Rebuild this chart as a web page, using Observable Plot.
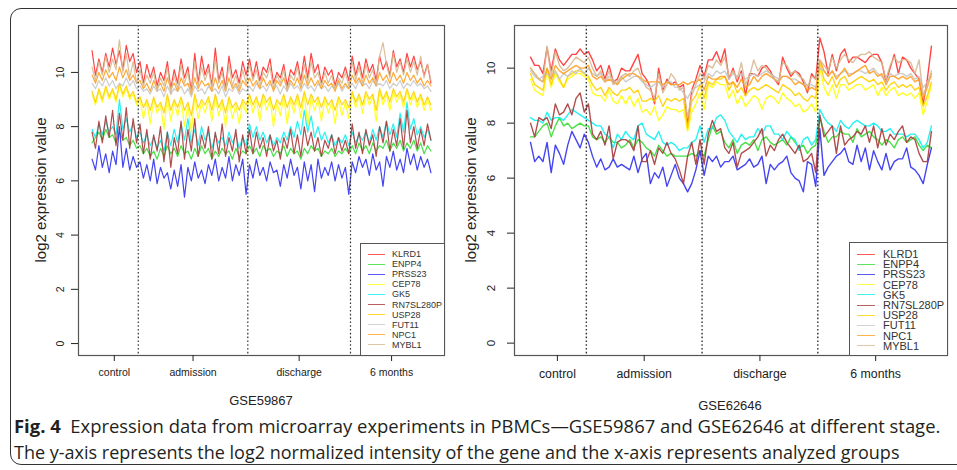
<!DOCTYPE html>
<html><head><meta charset="utf-8">
<script src="https://cdn.jsdelivr.net/npm/d3@7"></script>
<script src="https://cdn.jsdelivr.net/npm/@observablehq/plot@0.6"></script>
<style>
html,body{margin:0;padding:0;background:#fff;}
body{width:957px;height:470px;overflow:hidden;position:relative;font-family:"Liberation Sans",Arial,sans-serif;color:#222;}
#box{position:absolute;left:10px;top:8px;width:990px;height:457px;border:1.3px solid #333;border-radius:11px;box-sizing:border-box;}
.panel{position:absolute;top:0;}
.ytitle{position:absolute;white-space:nowrap;transform:translate(-50%,-50%) rotate(-90deg);font-size:15px;color:#222;}
.xtitle{position:absolute;white-space:nowrap;transform:translate(-50%,-50%);font-size:13px;color:#222;}
.legend{position:absolute;border:1px solid #555;background:#fff;box-sizing:border-box;}
.lrow{position:absolute;left:0;display:flex;align-items:center;white-space:nowrap;}
.lrow span.sw{display:inline-block;height:0;border-top:1.6px solid;}
.cap{position:absolute;left:14px;white-space:nowrap;font-family:"Open Sans","Noto Sans",sans-serif;font-size:17px;color:#231f20;transform:translateY(-50%);}
.cap b{font-weight:bold;}
</style></head>
<body>
<div id="box"></div>
<div id="left" class="panel" style="left:0"></div>
<div id="right" class="panel" style="left:445px"></div>
<div class="ytitle" style="left:40px;top:190px">log2 expression value</div>
<div class="ytitle" style="left:470px;top:190px">log2 expression value</div>
<div class="xtitle" style="left:261px;top:400px">GSE59867</div>
<div class="xtitle" style="left:730px;top:405px">GSE62646</div>
<div id="cap1" class="cap" style="top:425px"><b>Fig. 4</b>&nbsp; Expression data from microarray experiments in PBMCs—GSE59867 and GSE62646 at different stage.</div>
<div id="cap2" class="cap" style="top:452px">The y-axis represents the log2 normalized intensity of the gene and the x-axis represents analyzed groups</div>
<script>
// ---- categories / labels ----
const genes = ["KLRD1","ENPP4","PRSS23","CEP78","GK5","RN7SL280P","USP28","FUT11","NPC1","MYBL1"];
const colors = ["#ff3030","#33dd33","#3030f0","#ffff10","#10f0f0","#a83a3a","#ffd000","#c8c8c8","#ffa020","#d8b890"];
const groups = ["control","admission","discharge","6 months"];
const yTicks = [0,2,4,6,8,10];
// samples per group (left panel read at reduced density)
const sizesL = [14,32,30,24];
const sizesR = [14,28,28,28];

// ---- GSE59867 (left) ----
const KLRD1_L = [10.8,9.9,10.5,10.0,10.7,10.2,10.9,10.3,10.8,10.1,11.0,10.4,10.7,10.0,
 10.4,9.6,10.3,9.8,10.2,9.5,10.0,9.7,10.4,9.4,10.1,9.6,10.5,9.8,10.2,9.3,10.7,9.6,10.6,9.9,10.3,9.5,10.9,9.7,10.2,9.4,10.6,9.8,10.1,9.6,10.4,9.9,
 10.5,9.8,10.4,9.7,10.2,10.0,10.5,9.6,10.0,9.8,10.3,9.5,10.1,9.9,10.4,9.7,10.6,9.8,10.7,10.0,10.3,9.6,10.2,9.9,10.1,9.5,10.0,9.8,10.2,9.7,
 10.6,9.9,10.4,9.8,10.5,10.0,10.3,9.7,10.6,10.1,10.4,9.9,10.8,10.2,10.5,10.0,10.7,10.2,10.6,10.1,10.4,9.9,10.3,9.6];
const ENPP4_L = [7.4,7.6,7.8,7.5,7.9,7.6,7.7,7.4,7.8,7.5,7.6,7.3,7.5,7.2,
 7.3,7.0,7.2,6.9,7.1,6.8,7.2,6.9,7.3,7.0,7.2,6.9,7.3,7.0,7.1,6.8,7.2,6.9,7.3,7.0,7.2,6.8,7.1,6.9,7.2,7.0,7.1,6.8,7.2,6.9,7.1,7.0,
 7.3,7.0,7.2,6.9,7.3,7.1,7.2,6.9,7.1,7.0,7.3,6.9,7.2,7.0,7.1,6.8,7.2,7.0,7.3,7.1,7.2,6.9,7.1,7.0,7.2,6.9,7.1,7.0,7.2,7.0,
 7.3,7.0,7.4,7.1,7.3,7.0,7.4,7.1,7.3,7.2,7.5,7.1,7.4,7.2,7.5,7.1,7.4,7.2,7.5,7.1,7.4,7.0,7.3,7.1];
const PRSS23_L = [6.8,6.4,7.3,6.5,7.0,6.3,7.1,6.6,8.0,6.5,7.2,6.4,6.9,6.5,
 6.7,6.1,6.6,6.0,6.8,5.9,6.5,6.1,6.3,5.7,6.4,5.8,6.6,5.4,6.5,6.0,6.7,6.1,6.4,5.9,6.6,6.2,6.8,6.0,6.5,6.1,6.9,6.0,6.6,6.2,6.8,5.5,
 6.6,6.1,6.8,6.2,6.5,6.0,6.7,6.3,6.4,5.8,6.6,6.1,6.8,6.2,6.5,5.7,6.7,6.0,6.6,5.6,6.8,6.1,6.5,6.2,6.7,6.0,6.6,6.1,6.5,5.5,
 6.7,6.3,6.9,6.5,6.8,6.2,7.0,6.4,6.7,5.8,6.9,6.5,7.1,6.4,6.8,6.3,7.2,6.6,7.0,6.4,6.9,6.5,6.8,6.3];
const CEP78_L = [9.2,8.8,9.3,8.9,9.4,9.0,9.3,8.9,9.5,9.1,9.4,9.0,9.2,8.8,
 9.0,8.3,8.9,8.1,9.0,8.5,8.8,7.9,9.1,8.2,8.9,8.4,9.0,8.0,8.8,7.8,9.1,8.3,8.9,8.5,9.0,8.2,9.1,8.4,8.9,8.0,9.0,8.3,8.8,8.1,8.9,8.5,
 9.1,8.5,9.0,8.2,9.1,8.6,9.0,8.0,8.9,8.4,9.1,8.1,9.0,8.5,9.1,8.3,9.2,8.0,9.1,8.6,9.0,8.2,9.0,8.5,8.9,8.1,9.0,8.4,8.9,8.3,
 9.2,8.7,9.1,8.5,9.2,8.8,9.1,8.2,9.3,8.8,9.2,8.6,9.3,8.9,9.2,8.7,9.3,8.8,9.2,8.7,9.1,8.6,9.0,8.6];
const GK5_L = [7.9,7.6,8.1,7.7,8.2,7.8,8.0,7.7,9.0,7.9,8.3,7.8,8.1,7.6,
 7.8,7.4,7.7,7.3,7.6,7.2,7.5,7.1,7.8,7.3,7.9,7.4,8.1,7.5,8.3,7.4,7.9,7.3,8.0,7.5,7.8,7.2,7.7,7.4,7.6,7.3,7.8,7.4,7.7,7.2,7.6,7.3,
 8.1,7.6,8.0,7.5,7.8,7.4,7.7,7.3,7.6,7.4,7.8,7.5,8.0,7.6,8.2,7.7,8.6,7.8,8.4,7.6,8.0,7.5,7.8,7.4,7.7,7.3,7.6,7.4,7.7,7.3,
 7.8,7.4,7.7,7.5,7.8,7.4,7.9,7.5,8.0,7.6,8.2,7.7,8.1,7.6,8.5,7.8,8.9,7.9,8.3,7.7,8.0,7.6,7.9,7.5];
const RN7SL280P_L = [7.8,7.2,8.2,7.4,8.4,7.6,8.6,7.3,8.5,7.5,8.7,7.2,8.3,7.4,
 8.1,7.0,7.9,6.8,7.7,7.1,8.0,6.7,7.8,6.5,7.6,7.0,8.2,6.8,7.9,7.1,8.3,6.9,7.7,7.2,8.0,6.8,7.8,7.0,8.1,6.9,7.6,7.1,7.9,6.7,7.7,7.0,
 7.9,7.0,7.8,7.2,7.6,6.9,7.7,7.1,7.5,6.8,7.6,7.2,7.9,7.0,7.7,6.9,8.0,7.3,7.8,7.1,7.6,6.9,7.5,7.2,7.7,7.0,7.6,7.1,7.5,7.0,
 8.1,7.2,7.8,7.0,7.9,7.3,7.7,6.9,8.0,7.4,8.2,7.1,7.9,7.3,8.3,7.2,8.6,7.4,8.0,7.2,7.9,7.3,8.1,7.5];
const USP28_L = [9.3,8.9,9.4,9.0,9.5,9.1,9.4,9.0,9.6,9.2,9.5,9.1,9.3,8.9,
 9.1,8.7,9.0,8.6,9.1,8.7,8.9,8.5,9.2,8.6,9.0,8.7,9.1,8.6,8.9,8.4,9.2,8.7,9.0,8.8,9.1,8.6,9.2,8.7,9.0,8.5,9.1,8.7,8.9,8.6,9.0,8.8,
 9.2,8.8,9.1,8.7,9.2,8.9,9.1,8.6,9.0,8.8,9.2,8.7,9.1,8.8,9.2,8.7,9.3,8.8,9.2,8.9,9.1,8.7,9.1,8.8,9.0,8.6,9.1,8.8,9.0,8.7,
 9.3,8.9,9.2,8.8,9.3,9.0,9.2,8.6,9.4,9.0,9.3,8.9,9.4,9.1,9.3,8.9,9.4,9.0,9.3,8.9,9.2,8.8,9.1,8.8];
const FUT11_L = [9.6,9.4,9.7,9.5,9.8,9.5,9.7,9.4,9.6,9.5,9.8,9.5,9.7,9.4,
 9.5,9.3,9.4,9.2,9.5,9.3,9.4,9.1,9.5,9.2,9.4,9.3,9.5,9.2,9.4,9.1,9.5,9.3,9.4,9.2,9.5,9.3,9.4,9.2,9.5,9.1,9.4,9.3,9.5,9.2,9.4,9.3,
 9.5,9.3,9.6,9.4,9.5,9.3,9.6,9.4,9.5,9.2,9.5,9.3,9.6,9.4,9.5,9.3,9.6,9.4,9.5,9.3,9.6,9.4,9.5,9.3,9.5,9.4,9.6,9.3,9.5,9.4,
 9.6,9.4,9.7,9.5,9.6,9.4,9.7,9.5,9.6,9.5,9.7,9.4,9.6,9.5,9.7,9.4,9.6,9.5,9.7,9.5,9.6,9.4,9.5,9.3];
const NPC1_L = [9.9,9.6,10.0,9.7,10.1,9.8,10.0,9.7,10.2,9.8,10.1,9.7,9.9,9.6,
 9.7,9.4,9.6,9.3,9.7,9.4,9.6,9.3,9.8,9.4,9.6,9.3,9.8,9.5,9.6,9.2,9.8,9.4,9.7,9.5,9.6,9.3,9.8,9.4,9.7,9.3,9.8,9.4,9.6,9.3,9.7,9.5,
 9.8,9.5,9.7,9.4,9.8,9.5,9.7,9.3,9.7,9.5,9.8,9.4,9.7,9.5,9.8,9.4,9.9,9.5,9.8,9.5,9.7,9.4,9.7,9.5,9.6,9.3,9.7,9.4,9.6,9.4,
 9.9,9.6,9.8,9.5,9.9,9.6,9.8,9.5,10.0,9.7,9.9,9.6,10.0,9.7,9.9,9.6,10.0,9.7,9.9,9.6,9.8,9.5,9.7,9.5];
const MYBL1_L = [10.2,9.7,10.4,9.9,10.6,10.0,10.5,10.1,11.2,10.0,10.7,9.8,10.4,9.6,
 10.1,9.5,9.9,9.6,10.0,9.3,9.8,9.5,10.2,9.2,9.9,9.4,10.3,9.6,10.0,9.2,10.4,9.5,10.2,9.7,10.1,9.4,10.5,9.6,10.0,9.3,10.3,9.5,9.9,9.4,10.1,9.6,
 10.3,9.7,10.1,9.5,10.0,9.8,10.2,9.4,9.9,9.6,10.1,9.3,9.9,9.7,10.2,9.5,10.3,9.6,10.4,9.8,10.0,9.5,10.0,9.6,9.9,9.4,9.8,9.6,10.0,9.5,
 10.4,9.7,10.2,9.6,10.3,9.8,10.1,9.5,10.6,11.1,10.3,9.8,10.7,10.0,10.4,9.9,10.5,10.0,10.4,9.9,10.6,9.8,10.3,9.7];

// ---- GSE62646 (right) ----
const KLRD1_R = [10.4,10.1,10.1,9.8,10.75,9.9,10.7,10.3,10.1,10.3,10.5,10.5,10.7,10.5,
 10.6,10.3,9.9,10.1,9.6,10.1,9.5,9.6,10.0,9.9,9.9,10.2,10.5,9.8,9.6,9.3,8.7,10.0,9.2,9.6,9.4,9.5,9.3,9.4,7.9,9.2,9.6,10.1,
 9.7,10.3,10.3,10.6,10.2,10.7,9.6,10.0,9.5,9.9,9.0,9.8,9.8,9.7,10.0,10.1,9.9,9.6,9.4,10.4,10.0,9.7,9.9,9.8,9.5,9.1,9.8,9.6,
 11.1,10.6,9.8,10.5,9.9,10.5,10.7,10.2,10.4,10.4,10.3,10.2,10.4,10.5,10.5,10.2,9.5,10.0,10.5,9.8,10.4,10.3,10.0,9.8,9.6,8.7,9.6,10.8];
const ENPP4_R = [7.5,7.5,7.7,7.9,8.0,7.5,7.9,8.2,7.9,8.0,7.8,7.9,8.0,7.9,
 7.9,7.5,7.4,7.5,7.3,7.5,7.3,7.3,7.1,7.2,7.4,7.1,7.4,7.3,7.1,7.0,6.8,7.2,7.0,6.8,6.9,6.8,6.8,6.8,6.8,6.9,6.8,7.0,
 6.8,7.4,7.9,7.6,7.7,7.3,7.1,7.4,6.9,7.2,7.3,7.2,7.4,7.0,7.4,7.5,7.3,7.2,7.3,7.4,7.2,7.5,7.3,7.1,7.2,6.9,7.1,7.2,
 8.2,7.7,7.3,7.5,7.5,7.7,7.6,7.6,7.3,7.8,7.5,7.6,7.7,7.5,7.4,7.2,7.4,7.3,7.1,7.4,7.5,7.3,7.4,7.5,7.2,7.0,7.2,7.1];
const PRSS23_R = [7.3,6.6,6.8,6.6,7.3,6.2,7.2,6.9,6.5,7.2,7.7,7.4,7.1,7.6,
 7.3,6.8,6.4,6.7,6.3,6.4,6.7,6.4,6.5,6.4,6.3,6.8,6.2,6.7,6.9,5.8,6.2,6.0,6.4,5.7,6.1,6.5,6.0,5.8,5.5,5.8,6.3,7.0,
 6.1,6.8,6.6,6.8,6.4,6.6,6.6,6.8,6.3,6.4,6.5,6.7,6.4,6.5,6.8,5.8,6.5,6.3,6.5,6.6,6.8,6.2,6.0,5.9,5.5,6.6,6.5,5.7,
 7.8,6.1,6.4,6.6,6.8,6.9,7.1,6.6,6.5,7.2,6.6,7.1,6.3,7.0,6.6,6.3,6.9,6.3,6.6,6.7,6.7,7.1,6.4,6.3,6.1,5.8,6.5,7.1];
const CEP78_R = [9.6,9.2,9.1,9.0,9.9,9.3,9.8,9.5,9.3,9.6,9.7,9.8,9.8,9.7,
 9.6,9.1,9.0,9.0,8.8,9.2,8.8,8.7,9.0,8.7,9.0,8.6,8.9,8.4,8.5,8.3,8.6,8.1,8.3,8.6,8.5,8.5,8.4,8.5,7.7,8.4,8.7,9.1,
 8.5,9.4,9.3,9.5,9.4,9.4,8.9,9.2,8.7,9.0,8.6,8.8,9.0,8.9,8.5,8.9,9.0,8.9,8.7,9.1,8.9,8.8,8.6,8.7,8.4,8.5,8.7,8.4,
 10.0,9.3,9.0,9.4,8.9,9.4,9.4,9.2,9.3,9.4,9.4,9.2,9.3,9.4,9.0,9.3,9.0,9.2,9.3,9.0,9.1,9.0,9.1,8.9,9.1,8.3,8.8,9.4];
const GK5_R = [8.2,8.1,8.1,8.0,8.4,8.1,8.2,8.2,8.1,8.3,8.5,8.4,8.3,8.2,
 8.1,8.0,7.9,7.9,7.6,7.5,7.1,7.6,7.4,7.7,7.5,7.4,7.9,8.0,7.6,7.5,7.4,7.7,7.3,7.2,7.3,7.2,7.0,7.1,7.1,7.3,7.4,7.9,
 7.3,7.8,7.8,8.2,8.3,8.1,7.7,7.5,7.3,7.6,7.4,7.5,7.5,7.8,7.6,7.9,7.9,7.6,7.6,7.4,7.7,7.5,7.4,7.0,7.4,7.5,7.2,7.4,
 8.5,8.2,8.0,7.9,7.7,8.1,7.9,7.8,8.0,8.1,8.0,7.9,7.9,8.0,7.9,7.7,7.7,7.8,7.6,7.6,7.6,7.5,7.6,7.6,7.4,7.1,7.3,7.9];
const RN7SL280P_R = [8.0,7.5,8.2,8.1,8.2,7.8,8.7,8.3,8.4,8.7,8.3,8.9,9.1,8.4,
 8.7,7.6,7.4,7.7,7.2,7.9,6.7,7.3,7.4,7.4,7.3,7.0,7.9,6.6,6.6,7.0,6.5,7.1,6.9,7.3,6.9,6.7,6.3,5.8,6.8,7.3,6.5,7.4,
 6.5,7.6,8.1,7.7,7.8,7.1,6.9,7.3,6.4,6.9,7.0,7.1,7.3,7.5,7.8,6.8,7.2,7.0,7.4,7.6,7.3,7.1,6.9,7.2,6.6,6.7,6.9,6.2,
 8.3,7.5,7.7,7.9,6.9,7.9,7.2,7.4,7.5,7.7,7.6,7.9,7.3,7.9,7.1,7.8,7.2,7.6,7.4,7.7,7.9,7.3,7.5,7.4,6.9,6.6,6.6,7.7];
const USP28_R = [9.8,9.4,9.3,9.2,10.0,9.4,9.9,9.6,9.3,9.7,9.8,9.9,9.9,9.8,
 9.7,9.4,9.2,9.3,9.0,9.3,9.1,9.0,9.2,9.2,9.3,9.1,9.2,8.8,8.8,8.9,8.8,9.0,8.6,8.9,8.8,8.9,8.8,8.9,7.8,8.8,9.0,9.4,
 8.9,9.5,9.4,9.6,9.6,9.7,9.2,9.5,9.1,9.3,9.0,9.2,9.3,9.2,9.3,9.4,9.3,9.2,9.1,9.4,9.3,9.2,9.0,9.1,8.9,8.8,9.0,8.9,
 10.2,9.6,9.4,9.7,9.3,9.6,9.7,9.4,9.5,9.6,9.7,9.6,9.5,9.6,9.4,9.5,9.2,9.4,9.5,9.3,9.4,9.3,9.4,9.2,9.3,8.6,9.0,9.5];
const FUT11_R = [9.9,9.7,9.6,9.7,9.8,9.6,9.9,9.6,9.8,9.7,9.9,9.8,10.0,9.8,
 10.0,9.8,9.7,9.8,9.5,9.7,9.6,9.4,9.7,9.5,9.6,9.7,9.7,9.5,9.4,9.3,9.4,9.5,9.3,9.5,9.5,9.3,9.3,9.1,8.9,9.2,9.3,9.4,
 9.5,9.8,9.7,9.9,9.8,9.9,9.6,9.8,9.7,9.8,9.6,9.7,9.8,9.7,9.8,9.9,9.8,9.7,9.6,9.7,9.7,9.6,9.6,9.5,9.4,9.4,9.4,9.3,
 10.0,9.9,9.7,9.9,9.7,9.8,9.9,9.8,9.8,9.9,9.9,9.8,9.9,10.0,9.8,9.7,9.5,9.8,9.7,9.8,9.8,9.7,9.8,9.6,9.7,9.3,9.5,9.7];
const NPC1_R = [10.0,9.8,9.6,9.5,10.0,9.6,10.1,9.9,9.8,9.9,10.0,10.1,10.0,10.0,
 10.1,9.7,9.6,9.7,9.5,9.6,9.5,9.4,9.6,9.7,9.8,9.8,9.7,9.6,9.5,9.5,9.5,9.5,9.4,9.5,9.4,9.4,9.4,9.5,9.4,9.5,9.5,9.6,
 9.2,9.7,9.6,9.6,9.7,9.7,9.4,9.5,9.3,9.6,9.3,9.4,9.7,9.5,9.7,9.8,9.7,9.6,9.5,9.7,9.7,9.6,9.4,9.5,9.4,9.2,9.3,9.2,
 10.3,9.9,9.7,9.9,9.6,9.8,10.0,9.7,9.8,9.9,10.0,10.1,9.8,9.9,9.7,9.8,9.4,9.7,9.7,9.6,9.7,9.6,9.7,9.5,9.6,8.9,9.3,9.8];
const MYBL1_R = [10.0,9.8,9.6,9.5,10.8,9.7,10.6,10.1,9.9,10.0,10.2,10.4,10.3,10.2,
 10.4,10.0,9.7,9.9,9.5,9.9,9.4,9.5,9.7,9.8,9.7,9.9,10.0,9.6,9.3,9.2,8.9,9.8,9.1,9.4,9.8,9.6,9.2,9.3,8.2,9.0,9.4,9.8,
 9.6,10.1,10.0,10.3,10.1,10.4,9.7,9.9,9.6,10.2,9.4,9.7,10.3,9.9,10.1,10.0,9.8,9.6,9.5,10.2,10.1,9.8,9.9,9.7,9.6,9.3,9.7,9.6,
 10.3,10.1,9.9,10.4,10.0,10.3,10.5,10.3,10.2,10.4,10.5,10.5,10.6,10.4,10.3,10.2,9.6,10.1,10.4,10.2,10.3,10.3,10.2,9.8,10.3,9.0,9.4,9.9];

const seriesL = [KLRD1_L,ENPP4_L,PRSS23_L,CEP78_L,GK5_L,RN7SL280P_L,USP28_L,FUT11_L,NPC1_L,MYBL1_L];
const seriesR = [KLRD1_R,ENPP4_R,PRSS23_R,CEP78_R,GK5_R,RN7SL280P_R,USP28_R,FUT11_R,NPC1_R,MYBL1_R];

function panel(el, series, sizes, o) {
  const n = d3.sum(sizes);
  const cum = Array.from(d3.cumsum(sizes));
  const starts = [0, ...cum.slice(0, -1)];
  const bounds = cum.slice(0, -1).map(v => v - 0.5);
  const centers = sizes.map((s, k) => starts[k] + (s - 1) / 2);
  const pad = 0.04 * (n - 1);
  const marks = [];
  series.forEach((vals, k) => {
    marks.push(Plot.lineY(vals, {x: (d, i) => i, y: d => d, stroke: colors[k], strokeWidth: o.lw, strokeOpacity: 0.9}));
  });
  marks.push(Plot.ruleX(bounds, {stroke: "#333", strokeDasharray: o.dash, strokeWidth: o.dw}));
  marks.push(Plot.frame({stroke: "#555", strokeWidth: 1.2}));
  marks.push(Plot.axisY(yTicks, {tickSize: 7, tickPadding: o.ypad, tickRotate: -90, fontSize: o.yfs, tickFormat: d => String(d), label: null}));
  marks.push(Plot.axisX(centers, {tickSize: 6, tickPadding: o.xpad, fontSize: o.xfs, tickFormat: d => groups[centers.indexOf(d)], label: null}));
  const svg = Plot.plot({
    width: o.width, height: 415,
    marginLeft: o.ml, marginRight: o.mr, marginTop: 25, marginBottom: 60,
    x: {domain: [-pad, n - 1 + pad]},
    y: {domain: o.yDomain},
    style: {fontFamily: "'Liberation Sans', Arial, sans-serif", color: "#222", background: "transparent", overflow: "visible"},
    marks
  });
  el.appendChild(svg);
}

panel(document.getElementById("left"), seriesL, sizesL,
  {width: 445, ml: 78, mr: 1, yDomain: [-0.44, 11.73], lw: 1.2, dash: "1.6,2.2", dw: 1.2, ypad: 8, xpad: 7, yfs: 10.5, xfs: 10.5});
panel(document.getElementById("right"), seriesR, sizesR,
  {width: 512, ml: 69, mr: 10, yDomain: [-0.45, 11.55], lw: 1.4, dash: "1.6,2.2", dw: 1.4, ypad: 13, xpad: 8, yfs: 11.5, xfs: 12.3});

function legend(left, top, w, h, rowTop, rowStep, lineL, lineW, textL, fs) {
  const box = document.createElement("div");
  box.className = "legend";
  Object.assign(box.style, {left: left + "px", top: top + "px", width: w + "px", height: h + "px"});
  genes.forEach((g, k) => {
    const row = document.createElement("div");
    row.className = "lrow";
    const cy = rowTop + k * rowStep - top;
    Object.assign(row.style, {top: (cy - 6) + "px", height: "12px", left: (lineL - left - 1) + "px", fontSize: fs + "px"});
    const sw = document.createElement("span");
    sw.className = "sw";
    sw.style.width = lineW + "px";
    sw.style.borderTopColor = colors[k];
    sw.style.opacity = 0.8;
    const t = document.createElement("span");
    t.textContent = g;
    t.style.marginLeft = (textL - lineL - lineW) + "px";
    t.style.color = "#333";
    row.appendChild(sw); row.appendChild(t);
    box.appendChild(row);
  });
  document.body.appendChild(box);
}
legend(360, 243, 85, 113, 253, 10.1, 368, 17, 392, 9);
legend(849, 242, 99, 114, 253, 10.2, 857, 18, 883, 11);

// fit caption lines to the reference widths
function fit(id, target) {
  const el = document.getElementById(id);
  const w = el.getBoundingClientRect().width;
  const fs = parseFloat(getComputedStyle(el).fontSize);
  el.style.fontSize = (fs * target / w) + "px";
}
fit("cap1", 927);
fit("cap2", 886);
</script>
</body></html>
